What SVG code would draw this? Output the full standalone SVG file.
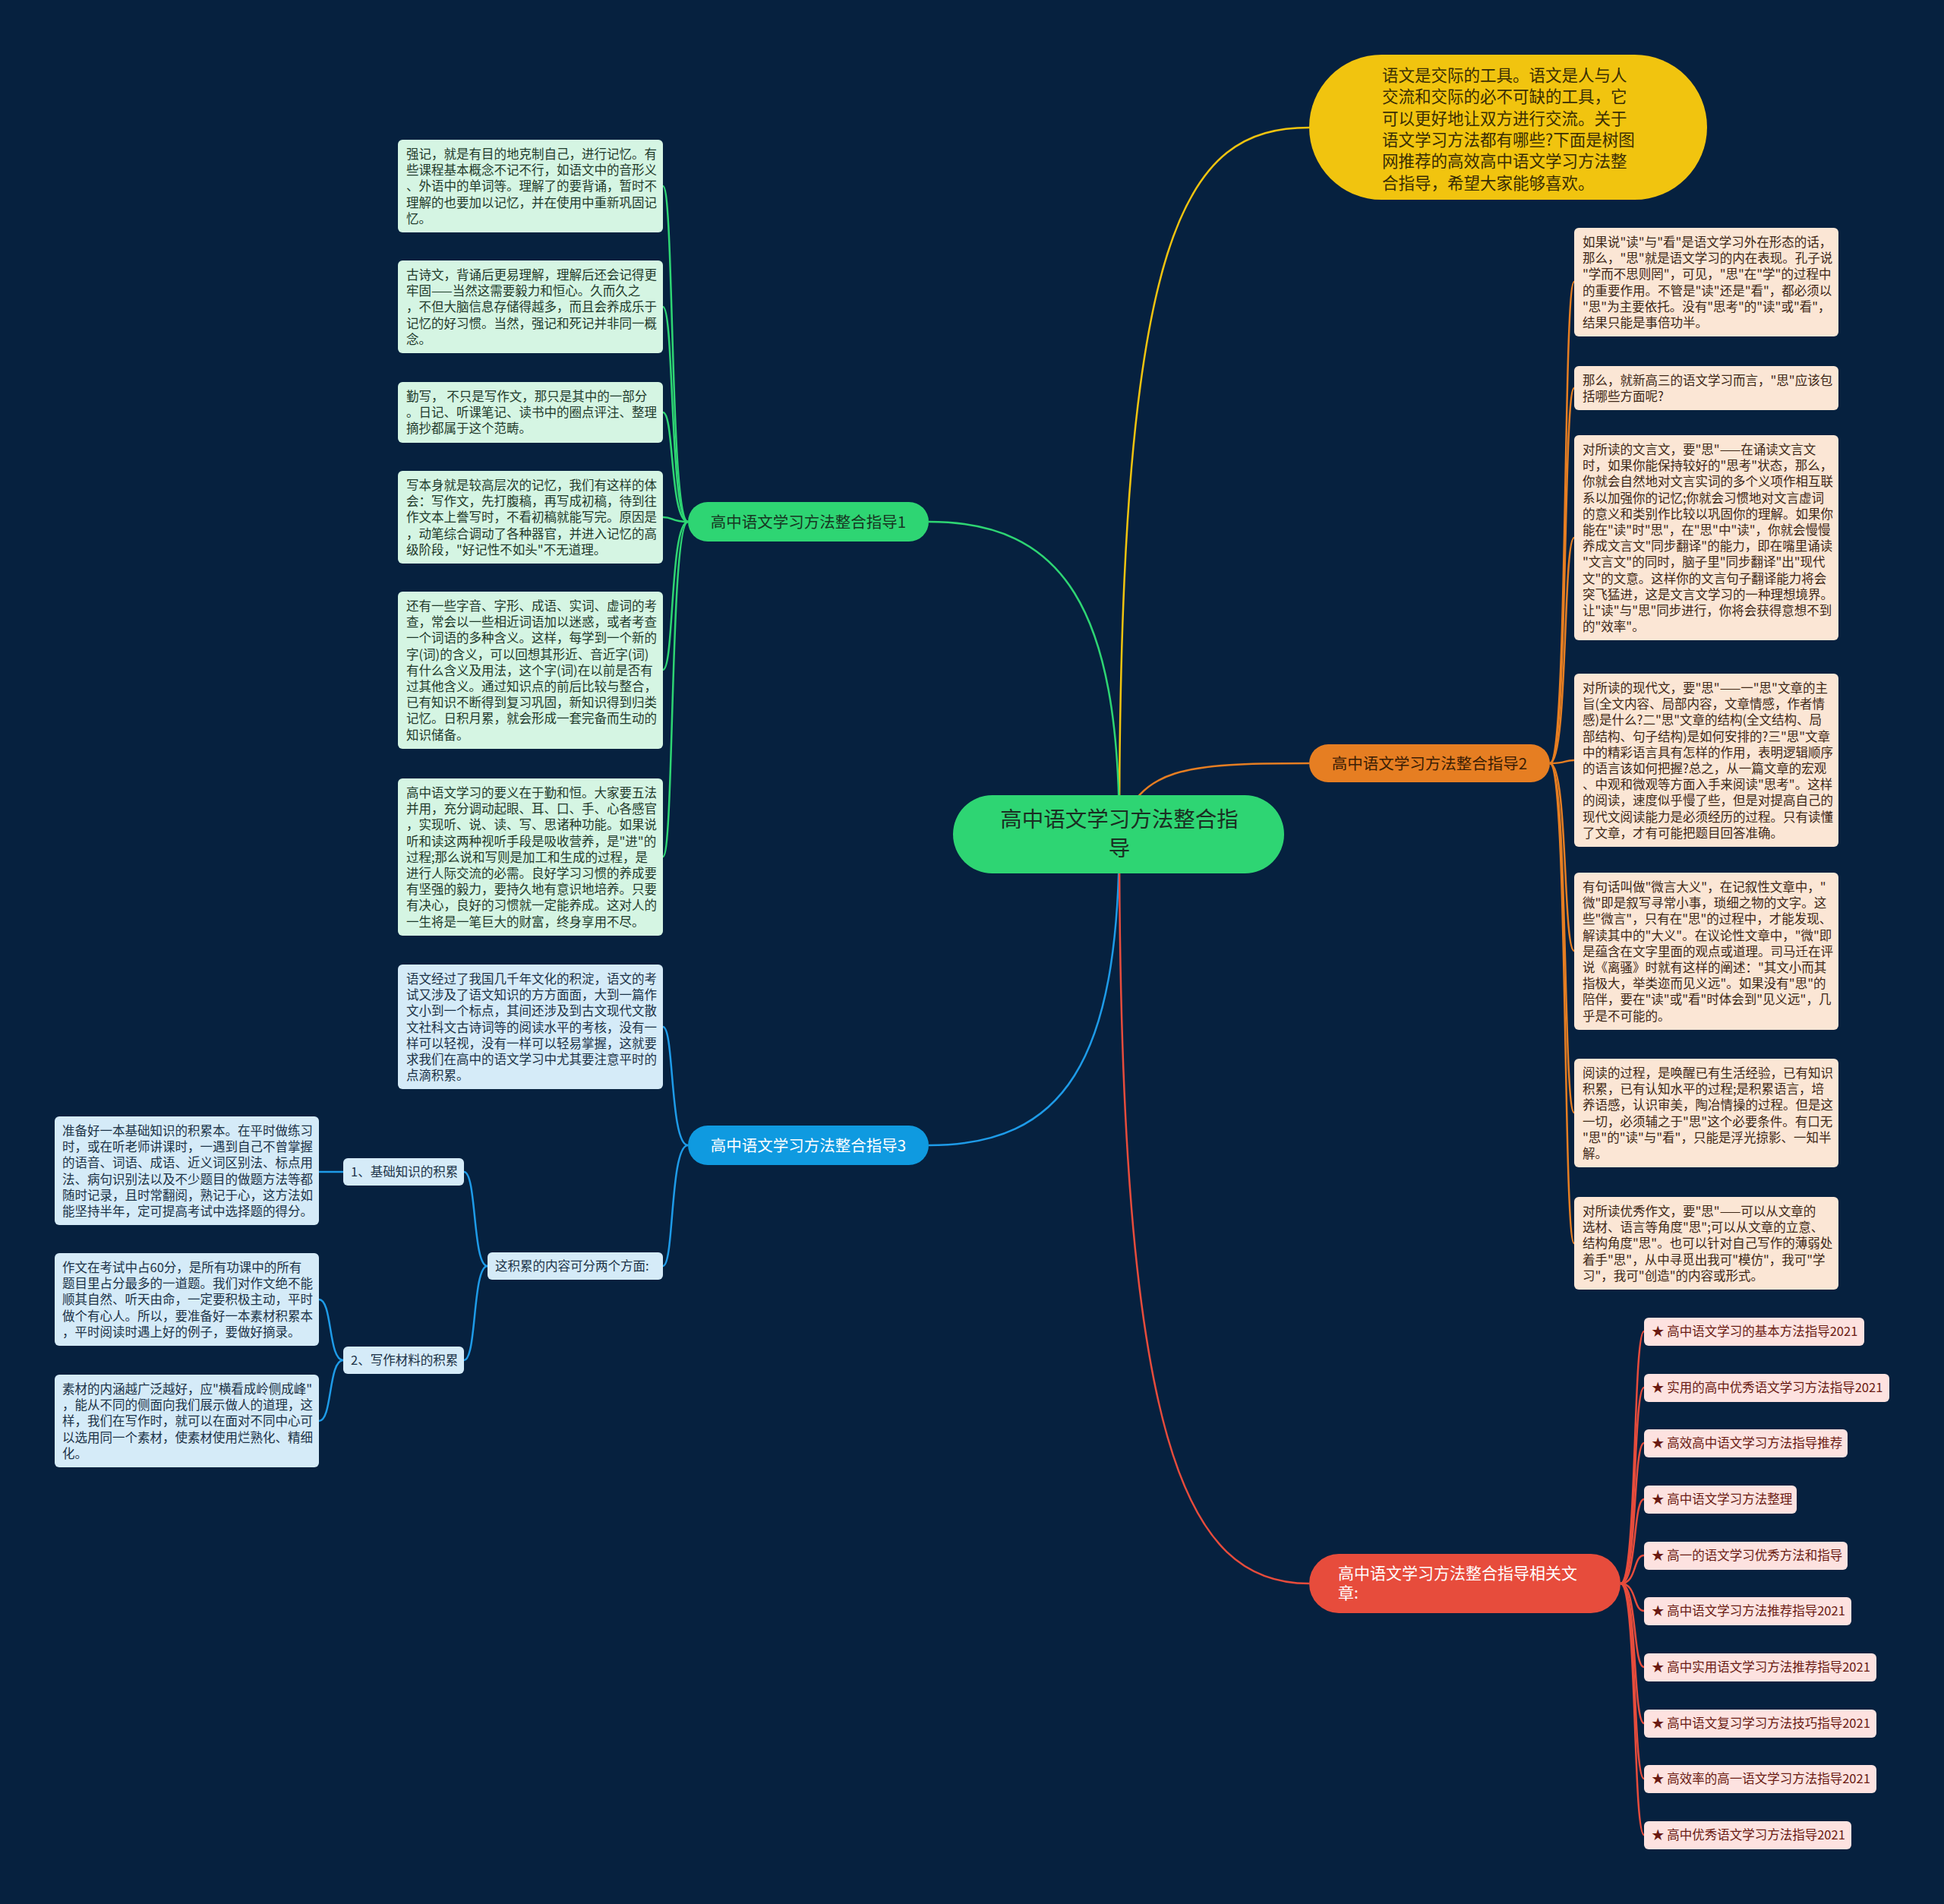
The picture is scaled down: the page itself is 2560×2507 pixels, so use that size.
<svg xmlns="http://www.w3.org/2000/svg" width="2560" height="2507" viewBox="0 0 2560 2507">
<style>
text{font-family:"Noto Sans CJK SC","Noto Sans",sans-serif}
.c{fill:none;stroke-width:2.5}
.cg{stroke:#2ed573}.cy{stroke:#f1c40f}.co{stroke:#e67e22}.cb{stroke:#1e9be8}.cr{stroke:#e74c3c}
.lg{fill:#d5f5e3}.lo{fill:#fbe6d5}.lb{fill:#d5ebf8}.lr{fill:#fde2e0}
.t{font-size:16.5px}
.tg{fill:#1f3a2b}.to{fill:#3e2716}.tb{fill:#1b3247}.tr{fill:#6a1a12}
</style>
<rect width="2560" height="2507" fill="#06213f"/>
<g id="connectors">
<path class="c cy" d="M1474,1098 C1474,300 1560,168 1724,168"/>
<path class="c cg" d="M1474,1098 C1474,800 1400,687 1223,687"/>
<path class="c cb" d="M1474,1098 C1474,1400 1400,1508 1223,1508"/>
<path class="c co" d="M1474,1098 C1500,1010 1560,1005 1724,1005"/>
<path class="c cr" d="M1474,1098 C1474,1900 1560,2085 1724,2085"/>
<path class="c cg" d="M906,687 C882,687 888,245 873,245"/>
<path class="c cg" d="M906,687 C882,687 888,404 873,404"/>
<path class="c cg" d="M906,687 C882,687 888,543 873,543"/>
<path class="c cg" d="M906,687 C882,687 888,681 873,681"/>
<path class="c cg" d="M906,687 C882,687 888,882 873,882"/>
<path class="c cg" d="M906,687 C882,687 888,1128 873,1128"/>
<path class="c co" d="M2041,1005 C2065,1005 2058,371 2073,371"/>
<path class="c co" d="M2041,1005 C2065,1005 2058,511 2073,511"/>
<path class="c co" d="M2041,1005 C2065,1005 2058,708 2073,708"/>
<path class="c co" d="M2041,1005 C2065,1005 2058,1001 2073,1001"/>
<path class="c co" d="M2041,1005 C2065,1005 2058,1252 2073,1252"/>
<path class="c co" d="M2041,1005 C2065,1005 2058,1465 2073,1465"/>
<path class="c co" d="M2041,1005 C2065,1005 2058,1637 2073,1637"/>
<path class="c cb" d="M906,1508 C882,1508 888,1352 873,1352"/>
<path class="c cb" d="M906,1508 C882,1508 888,1667 873,1667"/>
<path class="c cb" d="M642,1667 C622,1667 628,1543 611,1543"/>
<path class="c cb" d="M642,1667 C622,1667 628,1791 611,1791"/>
<path class="c cb" d="M452,1543 L420,1543"/>
<path class="c cb" d="M452,1791 C432,1791 438,1711 420,1711"/>
<path class="c cb" d="M452,1791 C432,1791 438,1871 420,1871"/>
<path class="c cr" d="M2134,2085 C2156,2085 2150,1753 2165,1753"/>
<path class="c cr" d="M2134,2085 C2156,2085 2150,1827 2165,1827"/>
<path class="c cr" d="M2134,2085 C2156,2085 2150,1900 2165,1900"/>
<path class="c cr" d="M2134,2085 C2156,2085 2150,1974 2165,1974"/>
<path class="c cr" d="M2134,2085 C2156,2085 2150,2048 2165,2048"/>
<path class="c cr" d="M2134,2085 C2156,2085 2150,2121 2165,2121"/>
<path class="c cr" d="M2134,2085 C2156,2085 2150,2195 2165,2195"/>
<path class="c cr" d="M2134,2085 C2156,2085 2150,2269 2165,2269"/>
<path class="c cr" d="M2134,2085 C2156,2085 2150,2342 2165,2342"/>
<path class="c cr" d="M2134,2085 C2156,2085 2150,2416 2165,2416"/>
</g>
<g id="center">
<rect x="1255" y="1047" width="436" height="103" rx="51.5" fill="#2ed573"/>
<text x="1474" y="1089" font-size="28.5" text-anchor="middle" fill="#1a2e22">高中语文学习方法整合指<tspan x="1474" dy="37.5">导</tspan></text>
</g>
<g id="intro">
<rect x="1724" y="72" width="524" height="191" rx="95.5" fill="#f1c40f"/>
<text x="1820" y="107" font-size="21.5" fill="#3a2e05">语文是交际的工具。语文是人与人<tspan x="1820" dy="28.3">交流和交际的必不可缺的工具，它</tspan><tspan x="1820" dy="28.3">可以更好地让双方进行交流。关于</tspan><tspan x="1820" dy="28.3">语文学习方法都有哪些?下面是树图</tspan><tspan x="1820" dy="28.3">网推荐的高效高中语文学习方法整</tspan><tspan x="1820" dy="28.3">合指导，希望大家能够喜欢。</tspan></text>
</g>
<g id="n1">
<rect x="906" y="661" width="317" height="52" rx="26" fill="#2ed573"/>
<text x="1064.5" y="694.5" font-size="20.5" text-anchor="middle" fill="#173522">高中语文学习方法整合指导1</text>
</g>
<g id="n1-1"><rect class="lg" x="524" y="184" width="349" height="122" rx="6"/>
<text class="t tg" x="535" y="209">强记，就是有目的地克制自己，进行记忆。有<tspan x="535" dy="21.2">些课程基本概念不记不行，如语文中的音形义</tspan><tspan x="535" dy="21.2">、外语中的单词等。理解了的要背诵，暂时不</tspan><tspan x="535" dy="21.2">理解的也要加以记忆，并在使用中重新巩固记</tspan><tspan x="535" dy="21.2">忆。</tspan></text></g>
<g id="n1-2"><rect class="lg" x="524" y="343" width="349" height="122" rx="6"/>
<text class="t tg" x="535" y="368">古诗文，背诵后更易理解，理解后还会记得更<tspan x="535" dy="21.2">牢固——当然这需要毅力和恒心。久而久之</tspan><tspan x="535" dy="21.2">，不但大脑信息存储得越多，而且会养成乐于</tspan><tspan x="535" dy="21.2">记忆的好习惯。当然，强记和死记并非同一概</tspan><tspan x="535" dy="21.2">念。</tspan></text></g>
<g id="n1-3"><rect class="lg" x="524" y="503" width="349" height="80" rx="6"/>
<text class="t tg" x="535" y="528">勤写， 不只是写作文，那只是其中的一部分<tspan x="535" dy="21.2">。日记、听课笔记、读书中的圈点评注、整理</tspan><tspan x="535" dy="21.2">摘抄都属于这个范畴。</tspan></text></g>
<g id="n1-4"><rect class="lg" x="524" y="620" width="349" height="122" rx="6"/>
<text class="t tg" x="535" y="645">写本身就是较高层次的记忆，我们有这样的体<tspan x="535" dy="21.2">会：写作文，先打腹稿，再写成初稿，待到往</tspan><tspan x="535" dy="21.2">作文本上誊写时，不看初稿就能写完。原因是</tspan><tspan x="535" dy="21.2">，动笔综合调动了各种器官，并进入记忆的高</tspan><tspan x="535" dy="21.2">级阶段，"好记性不如头"不无道理。</tspan></text></g>
<g id="n1-5"><rect class="lg" x="524" y="779" width="349" height="207" rx="6"/>
<text class="t tg" x="535" y="804">还有一些字音、字形、成语、实词、虚词的考<tspan x="535" dy="21.2">查，常会以一些相近词语加以迷惑，或者考查</tspan><tspan x="535" dy="21.2">一个词语的多种含义。这样，每学到一个新的</tspan><tspan x="535" dy="21.2">字(词)的含义，可以回想其形近、音近字(词)</tspan><tspan x="535" dy="21.2">有什么含义及用法，这个字(词)在以前是否有</tspan><tspan x="535" dy="21.2">过其他含义。通过知识点的前后比较与整合，</tspan><tspan x="535" dy="21.2">已有知识不断得到复习巩固，新知识得到归类</tspan><tspan x="535" dy="21.2">记忆。日积月累，就会形成一套完备而生动的</tspan><tspan x="535" dy="21.2">知识储备。</tspan></text></g>
<g id="n1-6"><rect class="lg" x="524" y="1025" width="349" height="207" rx="6"/>
<text class="t tg" x="535" y="1050">高中语文学习的要义在于勤和恒。大家要五法<tspan x="535" dy="21.2">并用，充分调动起眼、耳、口、手、心各感官</tspan><tspan x="535" dy="21.2">，实现听、说、读、写、思诸种功能。如果说</tspan><tspan x="535" dy="21.2">听和读这两种视听手段是吸收营养，是"进"的</tspan><tspan x="535" dy="21.2">过程;那么说和写则是加工和生成的过程，是</tspan><tspan x="535" dy="21.2">进行人际交流的必需。良好学习习惯的养成要</tspan><tspan x="535" dy="21.2">有坚强的毅力，要持久地有意识地培养。只要</tspan><tspan x="535" dy="21.2">有决心，良好的习惯就一定能养成。这对人的</tspan><tspan x="535" dy="21.2">一生将是一笔巨大的财富，终身享用不尽。</tspan></text></g>
<g id="n2">
<rect x="1724" y="980" width="317" height="50" rx="25" fill="#e67e22"/>
<text x="1882.5" y="1012.5" font-size="20.5" text-anchor="middle" fill="#3a1d05">高中语文学习方法整合指导2</text>
</g>
<g id="n2-1"><rect class="lo" x="2073" y="300" width="348" height="143" rx="6"/>
<text class="t to" x="2084" y="325">如果说"读"与"看"是语文学习外在形态的话，<tspan x="2084" dy="21.2">那么，"思"就是语文学习的内在表现。孔子说</tspan><tspan x="2084" dy="21.2">"学而不思则罔"，可见，"思"在"学"的过程中</tspan><tspan x="2084" dy="21.2">的重要作用。不管是"读"还是"看"，都必须以</tspan><tspan x="2084" dy="21.2">"思"为主要依托。没有"思考"的"读"或"看"，</tspan><tspan x="2084" dy="21.2">结果只能是事倍功半。</tspan></text></g>
<g id="n2-2"><rect class="lo" x="2073" y="482" width="348" height="58" rx="6"/>
<text class="t to" x="2084" y="507">那么，就新高三的语文学习而言，"思"应该包<tspan x="2084" dy="21.2">括哪些方面呢?</tspan></text></g>
<g id="n2-3"><rect class="lo" x="2073" y="573" width="348" height="270" rx="6"/>
<text class="t to" x="2084" y="598">对所读的文言文，要"思"——在诵读文言文<tspan x="2084" dy="21.2">时，如果你能保持较好的"思考"状态，那么，</tspan><tspan x="2084" dy="21.2">你就会自然地对文言实词的多个义项作相互联</tspan><tspan x="2084" dy="21.2">系以加强你的记忆;你就会习惯地对文言虚词</tspan><tspan x="2084" dy="21.2">的意义和类别作比较以巩固你的理解。如果你</tspan><tspan x="2084" dy="21.2">能在"读"时"思"，在"思"中"读"，你就会慢慢</tspan><tspan x="2084" dy="21.2">养成文言文"同步翻译"的能力，即在嘴里诵读</tspan><tspan x="2084" dy="21.2">"文言文"的同时，脑子里"同步翻译"出"现代</tspan><tspan x="2084" dy="21.2">文"的文意。这样你的文言句子翻译能力将会</tspan><tspan x="2084" dy="21.2">突飞猛进，这是文言文学习的一种理想境界。</tspan><tspan x="2084" dy="21.2">让"读"与"思"同步进行，你将会获得意想不到</tspan><tspan x="2084" dy="21.2">的"效率"。</tspan></text></g>
<g id="n2-4"><rect class="lo" x="2073" y="887" width="348" height="228" rx="6"/>
<text class="t to" x="2084" y="912">对所读的现代文，要"思"——一"思"文章的主<tspan x="2084" dy="21.2">旨(全文内容、局部内容，文章情感，作者情</tspan><tspan x="2084" dy="21.2">感)是什么?二"思"文章的结构(全文结构、局</tspan><tspan x="2084" dy="21.2">部结构、句子结构)是如何安排的?三"思"文章</tspan><tspan x="2084" dy="21.2">中的精彩语言具有怎样的作用，表明逻辑顺序</tspan><tspan x="2084" dy="21.2">的语言该如何把握?总之，从一篇文章的宏观</tspan><tspan x="2084" dy="21.2">、中观和微观等方面入手来阅读"思考"。这样</tspan><tspan x="2084" dy="21.2">的阅读，速度似乎慢了些，但是对提高自己的</tspan><tspan x="2084" dy="21.2">现代文阅读能力是必须经历的过程。只有读懂</tspan><tspan x="2084" dy="21.2">了文章，才有可能把题目回答准确。</tspan></text></g>
<g id="n2-5"><rect class="lo" x="2073" y="1149" width="348" height="207" rx="6"/>
<text class="t to" x="2084" y="1174">有句话叫做"微言大义"，在记叙性文章中，"<tspan x="2084" dy="21.2">微"即是叙写寻常小事，琐细之物的文字。这</tspan><tspan x="2084" dy="21.2">些"微言"，只有在"思"的过程中，才能发现、</tspan><tspan x="2084" dy="21.2">解读其中的"大义"。在议论性文章中，"微"即</tspan><tspan x="2084" dy="21.2">是蕴含在文字里面的观点或道理。司马迁在评</tspan><tspan x="2084" dy="21.2">说《离骚》时就有这样的阐述："其文小而其</tspan><tspan x="2084" dy="21.2">指极大，举类迩而见义远"。如果没有"思"的</tspan><tspan x="2084" dy="21.2">陪伴，要在"读"或"看"时体会到"见义远"，几</tspan><tspan x="2084" dy="21.2">乎是不可能的。</tspan></text></g>
<g id="n2-6"><rect class="lo" x="2073" y="1394" width="348" height="143" rx="6"/>
<text class="t to" x="2084" y="1419">阅读的过程，是唤醒已有生活经验，已有知识<tspan x="2084" dy="21.2">积累，已有认知水平的过程;是积累语言，培</tspan><tspan x="2084" dy="21.2">养语感，认识审美，陶冶情操的过程。但是这</tspan><tspan x="2084" dy="21.2">一切，必须辅之于"思"这个必要条件。有口无</tspan><tspan x="2084" dy="21.2">"思"的"读"与"看"，只能是浮光掠影、一知半</tspan><tspan x="2084" dy="21.2">解。</tspan></text></g>
<g id="n2-7"><rect class="lo" x="2073" y="1576" width="348" height="122" rx="6"/>
<text class="t to" x="2084" y="1601">对所读优秀作文，要"思"——可以从文章的<tspan x="2084" dy="21.2">选材、语言等角度"思";可以从文章的立意、</tspan><tspan x="2084" dy="21.2">结构角度"思"。也可以针对自己写作的薄弱处</tspan><tspan x="2084" dy="21.2">着手"思"，从中寻觅出我可"模仿"，我可"学</tspan><tspan x="2084" dy="21.2">习"，我可"创造"的内容或形式。</tspan></text></g>
<g id="n3">
<rect x="906" y="1482" width="317" height="52" rx="26" fill="#0f9ae0"/>
<text x="1064.5" y="1515.5" font-size="20.5" text-anchor="middle" fill="#ffffff">高中语文学习方法整合指导3</text>
</g>
<g id="n3-1"><rect class="lb" x="524" y="1270" width="349" height="164" rx="6"/>
<text class="t tb" x="535" y="1295">语文经过了我国几千年文化的积淀，语文的考<tspan x="535" dy="21.2">试又涉及了语文知识的方方面面，大到一篇作</tspan><tspan x="535" dy="21.2">文小到一个标点，其间还涉及到古文现代文散</tspan><tspan x="535" dy="21.2">文社科文古诗词等的阅读水平的考核，没有一</tspan><tspan x="535" dy="21.2">样可以轻视，没有一样可以轻易掌握，这就要</tspan><tspan x="535" dy="21.2">求我们在高中的语文学习中尤其要注意平时的</tspan><tspan x="535" dy="21.2">点滴积累。</tspan></text></g>
<g id="n3-2"><rect class="lb" x="642" y="1649" width="231" height="36" rx="6"/>
<text class="t tb" x="652" y="1673">这积累的内容可分两个方面:</text></g>
<g id="n3-2-1"><rect class="lb" x="452" y="1525" width="159" height="36" rx="6"/>
<text class="t tb" x="462" y="1549">1、基础知识的积累</text></g>
<g id="n3-2-2"><rect class="lb" x="452" y="1773" width="159" height="36" rx="6"/>
<text class="t tb" x="462" y="1797">2、写作材料的积累</text></g>
<g id="n3-2-1-1"><rect class="lb" x="72" y="1470" width="348" height="143" rx="6"/>
<text class="t tb" x="82" y="1495">准备好一本基础知识的积累本。在平时做练习<tspan x="82" dy="21.2">时，或在听老师讲课时，一遇到自己不曾掌握</tspan><tspan x="82" dy="21.2">的语音、词语、成语、近义词区别法、标点用</tspan><tspan x="82" dy="21.2">法、病句识别法以及不少题目的做题方法等都</tspan><tspan x="82" dy="21.2">随时记录，且时常翻阅，熟记于心，这方法如</tspan><tspan x="82" dy="21.2">能坚持半年，定可提高考试中选择题的得分。</tspan></text></g>
<g id="n3-2-2-1"><rect class="lb" x="72" y="1650" width="348" height="122" rx="6"/>
<text class="t tb" x="82" y="1675">作文在考试中占60分，是所有功课中的所有<tspan x="82" dy="21.2">题目里占分最多的一道题。我们对作文绝不能</tspan><tspan x="82" dy="21.2">顺其自然、听天由命，一定要积极主动，平时</tspan><tspan x="82" dy="21.2">做个有心人。所以，要准备好一本素材积累本</tspan><tspan x="82" dy="21.2">，平时阅读时遇上好的例子，要做好摘录。</tspan></text></g>
<g id="n3-2-2-2"><rect class="lb" x="72" y="1810" width="348" height="122" rx="6"/>
<text class="t tb" x="82" y="1835">素材的内涵越广泛越好，应"横看成岭侧成峰"<tspan x="82" dy="21.2">，能从不同的侧面向我们展示做人的道理，这</tspan><tspan x="82" dy="21.2">样，我们在写作时，就可以在面对不同中心可</tspan><tspan x="82" dy="21.2">以选用同一个素材，使素材使用烂熟化、精细</tspan><tspan x="82" dy="21.2">化。</tspan></text></g>
<g id="n4">
<rect x="1724" y="2046" width="410" height="78" rx="39" fill="#e74c3c"/>
<text x="1762" y="2079" font-size="21" fill="#ffffff">高中语文学习方法整合指导相关文<tspan x="1762" dy="26">章:</tspan></text>
</g>
<g id="r1"><rect class="lr" x="2165" y="1735" width="290" height="37" rx="6"/><text class="t tr" x="2175" y="1759">★ 高中语文学习的基本方法指导2021</text></g>
<g id="r2"><rect class="lr" x="2165" y="1809" width="323" height="37" rx="6"/><text class="t tr" x="2175" y="1833">★ 实用的高中优秀语文学习方法指导2021</text></g>
<g id="r3"><rect class="lr" x="2165" y="1882" width="268" height="37" rx="6"/><text class="t tr" x="2175" y="1906">★ 高效高中语文学习方法指导推荐</text></g>
<g id="r4"><rect class="lr" x="2165" y="1956" width="201" height="37" rx="6"/><text class="t tr" x="2175" y="1980">★ 高中语文学习方法整理</text></g>
<g id="r5"><rect class="lr" x="2165" y="2030" width="268" height="37" rx="6"/><text class="t tr" x="2175" y="2054">★ 高一的语文学习优秀方法和指导</text></g>
<g id="r6"><rect class="lr" x="2165" y="2103" width="273" height="37" rx="6"/><text class="t tr" x="2175" y="2127">★ 高中语文学习方法推荐指导2021</text></g>
<g id="r7"><rect class="lr" x="2165" y="2177" width="306" height="37" rx="6"/><text class="t tr" x="2175" y="2201">★ 高中实用语文学习方法推荐指导2021</text></g>
<g id="r8"><rect class="lr" x="2165" y="2251" width="306" height="37" rx="6"/><text class="t tr" x="2175" y="2275">★ 高中语文复习学习方法技巧指导2021</text></g>
<g id="r9"><rect class="lr" x="2165" y="2324" width="306" height="37" rx="6"/><text class="t tr" x="2175" y="2348">★ 高效率的高一语文学习方法指导2021</text></g>
<g id="r10"><rect class="lr" x="2165" y="2398" width="273" height="37" rx="6"/><text class="t tr" x="2175" y="2422">★ 高中优秀语文学习方法指导2021</text></g>
</svg>
